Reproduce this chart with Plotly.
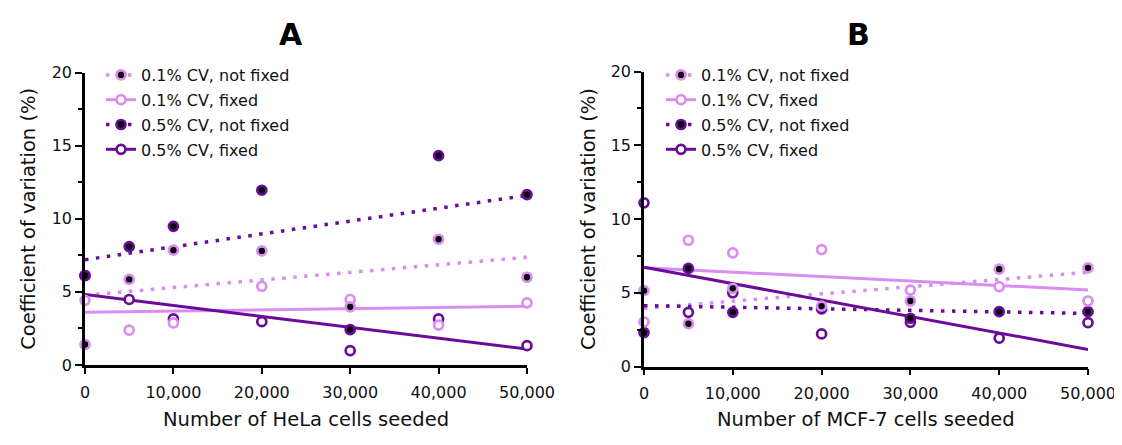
import numpy as np
import plotly.graph_objects as go

# ---------------- data ----------------
cells_seeded = [0, 5000, 10000, 20000, 30000, 40000, 50000]
x_range = [0, 50000]

series_names = ["0.1% CV, not fixed", "0.1% CV, fixed", "0.5% CV, not fixed", "0.5% CV, fixed"]

hela_01_notfixed = [1.4, 5.85, 7.85, 7.8, 3.98, 8.6, 6.0]
hela_01_fixed = [4.42, 2.38, 2.88, 5.38, 4.48, 2.73, 4.25]
hela_05_notfixed = [6.12, 8.1, 9.48, 11.95, 2.42, 14.32, 11.65]
hela_05_fixed = [6.12, 4.48, 3.15, 2.96, 0.98, 3.15, 1.32]

mcf7_01_notfixed = [5.14, 2.9, 5.3, 4.1, 4.44, 6.6, 6.69]
mcf7_01_fixed = [3.02, 8.56, 7.7, 7.93, 5.18, 5.41, 4.44]
mcf7_05_notfixed = [2.3, 6.65, 3.67, 3.9, 3.27, 3.72, 3.72]
mcf7_05_fixed = [11.1, 3.67, 5.0, 2.21, 3.0, 1.92, 2.97]

panel_titles = ["A", "B"]
x_titles = ["Number of HeLa cells seeded", "Number of MCF-7 cells seeded"]
y_title = "Coefficient of variation (%)"
x_tickvals = [0, 10000, 20000, 30000, 40000, 50000]
x_ticktext = ["0", "10,000", "20,000", "30,000", "40,000", "50,000"]

# ---------------- styles ----------------
LIGHT = "#D98CF2"
DARK = "#6B0B9A"
FONT = "DejaVu Sans"
DOT = "3.5px,7.5px"

styles = [
    dict(color=LIGHT, fill="black", dash=DOT, width=3.5),   # 0.1% not fixed
    dict(color=LIGHT, fill="white", dash="solid", width=3),  # 0.1% fixed
    dict(color=DARK, fill="black", dash=DOT, width=3.5),    # 0.5% not fixed
    dict(color=DARK, fill="white", dash="solid", width=3),   # 0.5% fixed
]

panels = [
    [hela_01_notfixed, hela_01_fixed, hela_05_notfixed, hela_05_fixed],
    [mcf7_01_notfixed, mcf7_01_fixed, mcf7_05_notfixed, mcf7_05_fixed],
]

# page body has an 8px default margin: lay out in window pixels, shifted
OFF = 8
W, H = 1122 - OFF, 445 - OFF


def px(x):
    return (x - OFF) / W


def py(y):
    return (H - (y - OFF)) / H


x_domains = [[px(85), px(527)], [px(644), px(1088)]]
y_domains = [[py(365), py(72.5)], [py(366.5), py(71.5)]]

fig = go.Figure()

for p, data in enumerate(panels):
    xa = "x" if p == 0 else "x2"
    ya = "y" if p == 0 else "y2"
    leg = "legend" if p == 0 else "legend2"
    # regression lines
    for s, vals in enumerate(data):
        st = styles[s]
        slope, icpt = np.polyfit(cells_seeded, vals, 1)
        xl = np.array(x_range, dtype=float)
        fig.add_trace(go.Scatter(
            x=xl, y=slope * xl + icpt, mode="lines", xaxis=xa, yaxis=ya,
            line=dict(color=st["color"], width=st["width"], dash=st["dash"]),
            showlegend=False, hoverinfo="skip", cliponaxis=False))
    # points (drawn bottom to top: reverse legend order)
    for s in [3, 2, 1, 0]:
        st = styles[s]
        fig.add_trace(go.Scatter(
            x=cells_seeded, y=data[s], mode="markers", xaxis=xa, yaxis=ya,
            marker=dict(size=9, color=st["fill"], line=dict(color=st["color"], width=2.7)),
            showlegend=False, cliponaxis=False, name=series_names[s]))
    # legend entries
    for s in range(4):
        st = styles[s]
        fig.add_trace(go.Scatter(
            x=[None], y=[None], mode="lines+markers", xaxis=xa, yaxis=ya,
            name=series_names[s], legend=leg, legendgroup=f"{p}-{s}",
            line=dict(color=st["color"], width=st["width"], dash=st["dash"]),
            marker=dict(size=9, color=st["fill"], line=dict(color=st["color"], width=2.7))))

axis_common = dict(
    showline=True, linecolor="black", linewidth=2.5, showgrid=False, zeroline=False,
    ticks="outside", tickcolor="black", tickwidth=2.2, automargin=False,
    tickfont=dict(family=FONT, size=16, color="#111111"),
)

for p in range(2):
    sfx = "" if p == 0 else "2"
    fig.layout["xaxis" + sfx] = dict(
        axis_common, domain=x_domains[p], range=x_range, anchor="y" + sfx,
        tickvals=x_tickvals, ticktext=x_ticktext, ticklen=6, ticklabelstandoff=5)
    fig.layout["yaxis" + sfx] = dict(
        axis_common, domain=y_domains[p], range=[0, 20], anchor="x" + sfx,
        tickvals=[0, 5, 10, 15, 20], ticklen=7,
        minor=dict(dtick=2.5, ticklen=4, ticks="outside", tickcolor="black", tickwidth=2.2))

annotations = []
title_x = [291, 858]
ytitle_x = [29, 588]
for p in range(2):
    annotations.append(dict(text=f"<b>{panel_titles[p]}</b>", x=px(title_x[p]), y=py(34),
                            xref="paper", yref="paper", showarrow=False,
                            xanchor="center", yanchor="middle",
                            font=dict(family=FONT, size=30, color="black")))
    xc = (x_domains[p][0] + x_domains[p][1]) / 2
    annotations.append(dict(text=x_titles[p], x=xc, y=py(419), xref="paper", yref="paper",
                            showarrow=False, xanchor="center", yanchor="middle",
                            font=dict(family=FONT, size=19.5, color="#111111")))
    yc = (y_domains[p][0] + y_domains[p][1]) / 2
    annotations.append(dict(text=y_title, x=px(ytitle_x[p]), y=yc, xref="paper", yref="paper",
                            textangle=-90, showarrow=False, xanchor="center", yanchor="middle",
                            font=dict(family=FONT, size=19.5, color="#111111")))

legend_common = dict(
    font=dict(family=FONT, size=16, color="#111111"), bgcolor="rgba(0,0,0,0)",
    borderwidth=0, xanchor="left", yanchor="top", tracegroupgap=1, traceorder="grouped")

fig.update_layout(
    width=W, height=H, autosize=False,
    margin=dict(l=0, r=0, t=0, b=0, autoexpand=False),
    paper_bgcolor="white", plot_bgcolor="white",
    annotations=annotations,
    legend=dict(legend_common, x=px(101), y=py(58)),
    legend2=dict(legend_common, x=px(661), y=py(58)),
    showlegend=True,
)

fig.write_html("out.html")
